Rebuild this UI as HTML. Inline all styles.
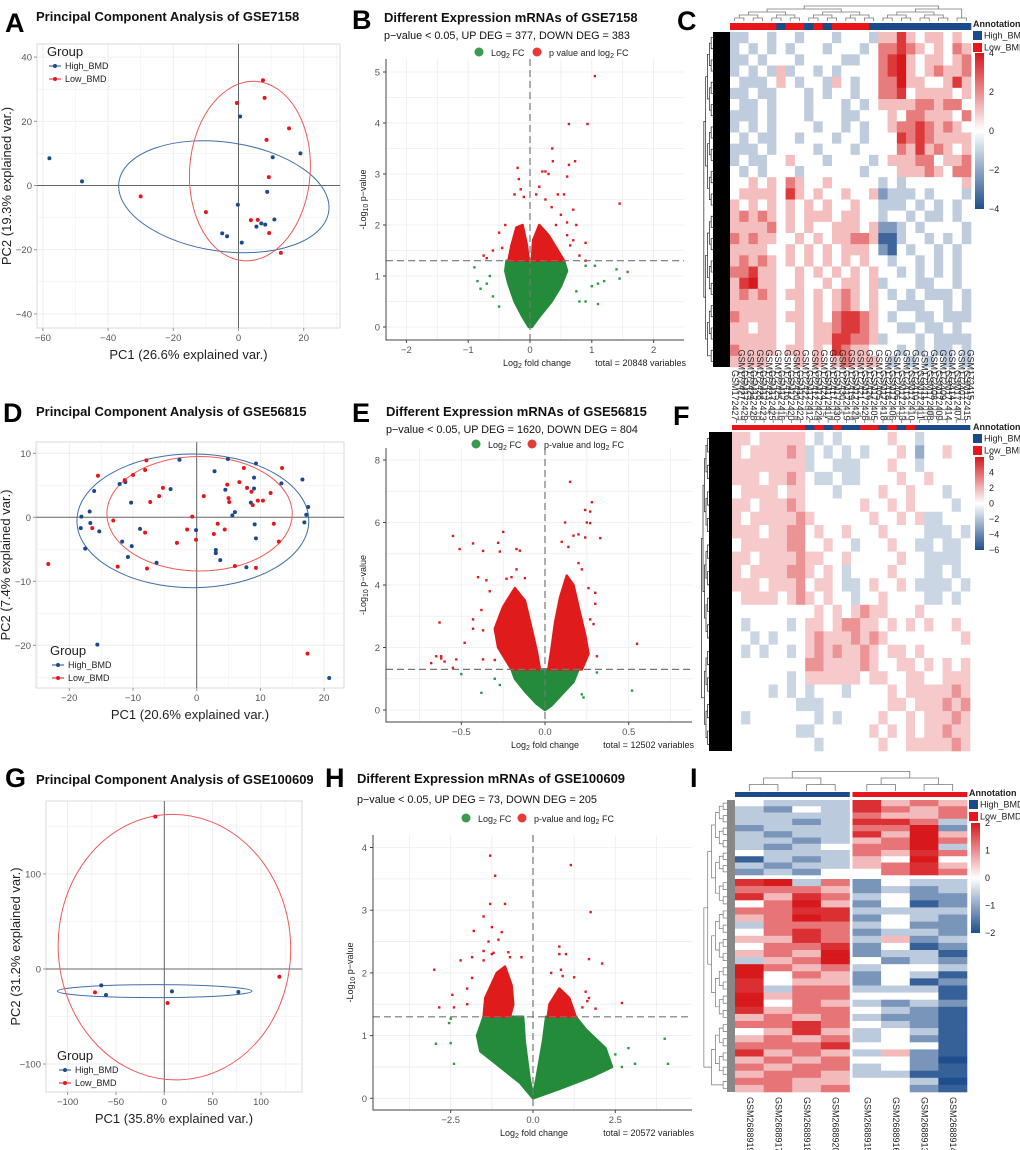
<!DOCTYPE html>
<html><head><meta charset="utf-8">
<style>
html,body{margin:0;padding:0;background:#fff;}
svg{display:block;font-family:"Liberation Sans",Arial,sans-serif;}
.t{font-weight:bold;font-size:13px;fill:#111;}
.L{font-weight:bold;font-size:27px;fill:#000;}
.s{font-size:10.8px;fill:#111;}
.tk{font-size:9.5px;fill:#555;}
.ax{font-size:13px;fill:#222;}
.sm{font-size:9px;fill:#222;}
</style></head>
<body>
<svg id="fig" width="1020" height="1150" viewBox="0 0 1020 1150" xmlns="http://www.w3.org/2000/svg">
<text class="L" x="5" y="32">A</text>
<text class="t" x="36" y="21">Principal Component Analysis of GSE7158</text>
<text class="L" x="352" y="29">B</text>
<text class="t" x="384" y="22">Different Expression mRNAs of GSE7158</text>
<text class="s" x="384" y="39">p−value &lt; 0.05, UP DEG = 377, DOWN DEG = 383</text>
<text class="L" x="677" y="30">C</text>
<text class="L" x="3" y="422">D</text>
<text class="t" x="36" y="416">Principal Component Analysis of GSE56815</text>
<text class="L" x="352" y="422">E</text>
<text class="t" x="386" y="416">Different Expression mRNAs of GSE56815</text>
<text class="s" x="386" y="433">p−value &lt; 0.05, UP DEG = 1620, DOWN DEG = 804</text>
<text class="L" x="673" y="425">F</text>
<text class="L" x="5" y="787">G</text>
<text class="t" x="36" y="784">Principal Component Analysis of GSE100609</text>
<text class="L" x="325" y="787">H</text>
<text class="t" x="357" y="783">Different Expression mRNAs of GSE100609</text>
<text class="s" x="357" y="803">p−value &lt; 0.05, UP DEG = 73, DOWN DEG = 205</text>
<text class="L" x="690" y="787">I</text>
</svg>
<script>
// ---------- DATA ----------
// Panel A PCA (GSE7158)
const aHighX=[-58,-48,0.5,10.5,19,8.8,-0.2,7,5.5,8.2,11,-5,-3.5,1];
const aHighY=[8.5,1.3,21.5,8.8,10,-2,-6,-11.8,-12.8,-12.2,-10.6,-14.9,-15.8,-17.8];
const aLowX=[7.5,8,-0.5,15.5,8.6,9.3,-30,-10,3.8,5.9,9.4,13];
const aLowY=[32.8,27.3,25.7,17.8,14.2,2.6,-3.4,-8.3,-10.8,-10.7,-14.8,-21];
const aEllHigh=[-4.5,-3.5,32.5,17,8];
const aEllLow=[3.5,4.5,18.5,28,4];
const aXTicks=[-60,-40,-20,0,20];
const aYTicks=[-40,-20,0,20,40];
// Panel D PCA (GSE56815)
const dHighX=[-2.7,4.9,9.3,2.8,16.6,13.3,9.0,-16.1,-12.1,-11.2,-4.1,4.5,9.0,8.5,-10.3,17.5,17.2,6.0,5.6,-18.1,-16.8,-16.7,-18.2,16.9,9.1,-0.1,-15.3,-8.9,-11.7,-10.2,9.3,3.0,3.0,-17.5,-10.8,3.7,-6.3,7.8,-15.6,20.8];
const dHighY=[9.0,9.1,8.4,7.2,5.9,5.3,6.2,4.1,5.2,5.5,4.4,4.3,4.5,2.3,2.3,1.6,0.4,0.8,0.3,0.1,0.9,-0.9,-1.7,-0.8,-1.1,-2.0,-2.2,-1.8,-3.8,-4.5,-3.3,-5.1,-5.6,-4.9,-6.2,-6.7,-7.1,-7.8,-19.9,-25.1];
const dLowX=[-15.5,-7.9,-8.1,-10,-11.3,-5.3,-5.9,-7.3,1.1,7.4,13.4,6.7,4.8,7.9,8.6,11.6,5.0,5.1,9.6,10.4,8.8,-0.7,-13.1,-16.4,-8.1,-1.5,3.3,4.4,12.1,2.7,-3.1,-0.1,12.9,-12.4,-7.8,6.0,9.3,-23.3,17.4];
const dLowY=[6.5,8.9,7.4,6.6,5.8,4.6,3.3,2.4,3.3,7.7,7.7,5.5,5.1,4.6,4.0,3.8,3.0,2.4,2.6,2.6,1.9,0.1,-0.5,-1.7,-2.4,-1.9,-1.0,-1.9,-1.0,-2.6,-4.0,-3.5,-3.8,-7.7,-8.0,-7.6,-7.9,-7.3,-21.3];
const dEllHigh=[-0.6,-0.55,18.2,10.45,0];
const dEllLow=[0.45,0.55,14.55,8.95,0];
const dXTicks=[-20,-10,0,10,20];
const dYTicks=[-20,-10,0,10];
// Panel G PCA (GSE100609)
const gHighX=[-65.2,-60.3,7.9,76.6];
const gHighY=[-17.2,-27.4,-23.5,-24.2];
const gLowX=[-9.3,-71.7,3.4,119];
const gLowY=[160.4,-24.6,-35.8,-8.1];
const gEllHigh=[-10,-23.3,100.7,6.8,0];
const gEllLow=[10.5,23,120.2,139.8,-3];
const gXTicks=[-100,-50,0,50,100];
const gYTicks=[-100,0,100];

// Volcano B
const bGreenEnvX=[-0.02,-0.12,-0.25,-0.35,-0.4,-0.38,0.55,0.6,0.5,0.35,0.15,0.03];
const bGreenEnvY=[0,0.2,0.5,0.85,1.1,1.3,1.3,1.1,0.8,0.5,0.2,0];
const bRedLeftX=[-0.35,-0.3,-0.22,-0.12,-0.05,-0.02];
const bRedLeftY=[1.3,1.6,1.95,2.0,1.6,1.3];
const bRedRightX=[0.03,0.05,0.15,0.3,0.45,0.55];
const bRedRightY=[1.3,1.7,2.0,1.8,1.5,1.3];
const bRedPtX=[1.05,0.63,0.93,0.36,0.37,0.73,0.63,0.6,-0.2,1.45,0.2,0.25,0.3,-0.18,-0.25,-0.15,0.15,0.45,0.55,0.7,0.9,0.75,0.6,-0.4,-0.5,-0.6,-0.75,-0.7,0.8,0.9,0.35,0.5,0.42,0.6,0.25,-0.1,0.1,0.65,-0.45,0.7];
const bRedPtY=[4.92,3.98,3.98,3.5,3.25,3.25,3.18,2.95,3.12,2.42,3.05,3.05,3.0,2.9,2.6,2.7,2.75,2.6,2.6,2.3,1.65,2.0,1.8,2.0,1.85,1.5,1.4,1.35,1.4,1.3,2.35,2.2,2.0,2.05,2.5,2.55,2.6,1.6,1.55,1.7];
const bGreenPtX=[-0.9,-0.85,-0.8,-0.7,-0.6,-0.65,-0.5,0.8,0.9,1.1,1.4,1.58,1.45,1.0,1.1,1.2,0.9,1.05,0.75];
const bGreenPtY=[1.17,0.9,0.75,0.85,0.6,1.0,0.4,0.5,0.5,0.45,1.13,1.08,0.95,0.8,0.85,0.9,1.2,1.2,0.7];
const bXTicks=[-2,-1,0,1,2];
const bYTicks=[0,1,2,3,4,5];
// Volcano E
const eGreenEnvX=[0,-0.05,-0.12,-0.18,-0.2,0.2,0.17,0.1,0.04];
const eGreenEnvY=[0,0.2,0.6,1.0,1.3,1.3,0.9,0.5,0.15];
const eRedLeftX=[-0.2,-0.28,-0.3,-0.25,-0.18,-0.12,-0.08,-0.05,-0.03];
const eRedLeftY=[1.3,2.0,2.6,3.3,3.9,3.5,2.6,1.9,1.3];
const eRedRightX=[0.02,0.04,0.06,0.09,0.13,0.17,0.2,0.24,0.26,0.22];
const eRedRightY=[1.3,2.0,2.8,3.6,4.3,4.0,3.3,2.4,1.8,1.3];
const eRedPtX=[0.15,0.28,0.24,0.27,0.25,0.27,0.12,0.33,0.2,0.24,0.17,0.1,0.14,-0.55,-0.25,-0.43,-0.51,-0.28,-0.37,-0.27,-0.17,-0.15,-0.17,-0.4,-0.35,-0.23,-0.2,-0.12,-0.33,-0.38,-0.43,-0.63,-0.43,-0.37,-0.48,-0.65,-0.62,-0.6,-0.68,-0.62,-0.53,-0.55,-0.37,-0.3,0.55,0.31,0.3,0.3,0.27,0.29,0.26,0.22,0.2];
const eRedPtY=[7.3,6.65,6.4,6.35,6.0,5.98,6.0,5.5,5.62,5.52,5.58,5.38,5.22,5.57,5.7,5.33,5.15,5.35,5.09,5.07,5.15,5.1,4.5,4.25,4.15,4.2,4.25,4.22,3.8,3.2,2.9,2.8,2.6,2.55,2.15,1.72,1.65,1.55,1.5,1.72,1.62,1.35,1.62,1.6,2.12,1.72,3.75,3.4,2.9,2.75,3.9,4.5,4.7];
const eGreenPtX=[-0.5,-0.38,0.52,0.31,0.23,0.22,-0.27,-0.3];
const eGreenPtY=[1.15,0.55,0.62,1.2,0.4,0.5,0.8,1.0];
const eXTicks=[-0.5,0,0.5];
const eYTicks=[0,2,4,6,8];
// Volcano H
const hGreenEnvX=[0,-0.4,-1.0,-1.6,-1.7,-1.5,-0.3,-0.25,-0.1,0,0.1,0.3,0.4,1.3,1.6,2.2,2.4,1.8,0.8];
const hGreenEnvY=[0,0.25,0.5,0.75,1.0,1.3,1.3,0.9,0.3,0.05,0.3,0.9,1.3,1.3,1.1,0.8,0.5,0.35,0.15];
const hRedLeftX=[-1.5,-1.45,-1.1,-0.85,-0.65,-0.6,-0.7];
const hRedLeftY=[1.3,1.6,2.0,2.1,1.8,1.5,1.3];
const hRedRightX=[0.45,0.5,0.8,1.1,1.3];
const hRedRightY=[1.3,1.5,1.75,1.6,1.3];
const hRedPtX=[-1.3,-1.15,-1.3,-0.85,-1.5,-1.25,-1.8,-0.95,-1.35,-1.05,-1.5,-1.25,-1.2,-0.75,-0.35,-0.7,-2.2,-1.85,-1.5,-3.0,-1.85,-2.45,-2.4,-2.85,-2.0,-2.0,1.15,1.75,0.8,0.8,1.0,1.7,2.1,0.55,0.85,0.9,1.25,1.6,1.7,1.9,2.7,1.5,1.65];
const hRedPtY=[3.87,3.55,3.1,3.1,2.9,2.73,2.67,2.65,2.5,2.53,2.35,2.3,2.32,2.33,2.25,2.25,2.2,2.25,2.2,2.05,1.92,1.65,1.45,1.45,1.75,1.5,3.72,2.97,2.42,2.3,2.3,2.22,2.15,2.0,2.05,1.95,1.93,1.7,1.6,1.43,1.52,1.45,1.55];
const hGreenPtX=[-2.95,-2.5,-2.4,-2.55,-2.5,4.0,4.1,2.9,3.1,2.7,2.5];
const hGreenPtY=[0.87,0.88,0.55,1.2,1.27,0.95,0.55,0.8,0.55,0.5,0.7];
const hXTicks=[-2.5,0,2.5];
const hYTicks=[0,1,2,3,4];

// Heatmap C (26 samples; codes 0..8 => value code-4)
const cSamples=["GSM172427","GSM172429","GSM172428","GSM172423","GSM172425","GSM172416","GSM172420","GSM172422","GSM172412","GSM172424","GSM172417","GSM172430","GSM172419","GSM172421","GSM172426","GSM172405","GSM172418","GSM172406","GSM172413","GSM172410","GSM172411","GSM172408","GSM172409","GSM172414","GSM172407","GSM172415"];
const cGroups="LLLLLHLLHLHLLLLHHHHHHHHHHH";
const cRows=["33443443444344435575455454","34343434443444346676545465","33434443444433446785455456","34343534434344446785456556","43334543443543446685544575","33433444343443446674555545","43343444344434345555665664","33343444344433444546655546","34343444434434344566765654","43433443444344344476765555","33343444434443444465756545","34334454443444434555664556","43434443444444344455565466","44545465445444443434444445","45555475454454452333434443","54545454545445443334343434","56565454555455443443433434","55556454544555452234344443","65655445454556651134434343","55554454545455542143443434","56565454545454544344343434","66755445454545454434343434","57855445445455453444334434","56565455454565454343433343","55555445454565454433344343","65555455454677654344334333","55455445455677654433433434","55555445455776653444343333","65555455454765544434343343","55554445454565554343434343"];
// Heatmap F
const fSamples=cSamples;
const fGroups="LLLLLLLLHLHLHHLLHLHLHHHHHH";
const fRows=["55455555434344444544344444","54555565343434344454244544","55555555344333444544344444","55545565433433444454454444","45555455444344445445444344","55455565444444544545444434","54555556544444454454533444","55545566454454445444433343","45555566445443444544334334","55455556554454444454433334","54555566545434444544433434","55545556455433454454333343","45555456545443445444433434","44444444454545655444544444","43444434554566554545454454","44343444565556565444444445","43434434565655654554544444","44444444665555654455454545","44444434555555455445544555","44443434344434444545555565","44444443334444444554555656","43444444434344445445455565","44444443344444454545455655","44444444434444445445555565"];
// Heatmap I
const iSamples=["GSM2688919","GSM2688917","GSM2688918","GSM2688920","GSM2688915","GSM2688916","GSM2688913","GSM2688914"];
const iGroups="HHHHLLLL";
const iTopRows=["43337565","32437656","33336556","33237763","23336682","32337585","33235686","32346683","43336576","13235484","32335675","23244676"];
const iBotRows=["78362433","66652323","75763422","46852412","66773333","56872432","36663422","46762332","55763523","46672412","56582331","35684232","86563443","84652431","74552412","73663331","85664441","84653232","75664321","56563221","66764321","45753431","56563421","66674441","75653521","56564420","65663421","56653311","66554430","56564421"];

// ---------- HELPERS ----------
const NS="http://www.w3.org/2000/svg";
const svg=document.getElementById('fig');
function mk(tag,at,parent){const e=document.createElementNS(NS,tag);for(const k in at)e.setAttribute(k,at[k]);(parent||svg).appendChild(e);return e;}
function tag(e,name){


return e;}
function lin(d0,d1,r0,r1){return v=>r0+(v-d0)*(r1-r0)/(d1-d0);}
function txt(x,y,s,cls,extra){const e=mk('text',Object.assign({x:x,y:y,class:cls},extra||{}));e.textContent=s;return e;}
function fmt(v){return (String(v).startsWith('-')?'−':'')+String(v).replace('-','');}
const RED='#e8161b', BLUE='#1b4a8a';

function pca(o){
  const sx=lin(o.xd[0],o.xd[1],o.xr[0],o.xr[1]), sy=lin(o.yd[0],o.yd[1],o.yr[0],o.yr[1]);
  const g=tag(mk('g',{}),o.name);
  const [L,R,T,B]=o.rect;
  tag(mk('rect',{x:L,y:T,width:R-L,height:B-T,fill:'#fff',stroke:'#d9d9d9','stroke-width':1},g),'plot-area');
  const dx=o.xt[1]-o.xt[0], dy=o.yt[1]-o.yt[0];
  for(let v=o.xt[0]-dx/2; v<=o.xt[o.xt.length-1]+dx; v+=dx/2){const x=sx(v); if(x<L||x>R)continue;
    tag(mk('line',{x1:x,x2:x,y1:T,y2:B,stroke:'#ececec','stroke-width':(Math.abs((v-o.xt[0])/dx%1)<1e-6)?0.9:0.5},g),'x-grid-line');}
  for(let v=o.yt[0]-dy/2; v<=o.yt[o.yt.length-1]+dy; v+=dy/2){const y=sy(v); if(y<T||y>B)continue;
    tag(mk('line',{x1:L,x2:R,y1:y,y2:y,stroke:'#ececec','stroke-width':(Math.abs((v-o.yt[0])/dy%1)<1e-6)?0.9:0.5},g),'y-grid-line');}
  tag(mk('line',{x1:sx(0),x2:sx(0),y1:T,y2:B,stroke:'#666','stroke-width':1},g),'zero-line-vertical');
  tag(mk('line',{x1:L,x2:R,y1:sy(0),y2:sy(0),stroke:'#666','stroke-width':1},g),'zero-line-horizontal');
  o.xt.forEach(v=>{tag(mk('line',{x1:sx(v),x2:sx(v),y1:B,y2:B+3,stroke:'#999'},g),'x-tick');
    tag(txt(sx(v),B+13,fmt(v),'tk',{'text-anchor':'middle'}),'x-tick-label');});
  o.yt.forEach(v=>{tag(mk('line',{x1:L-3,x2:L,y1:sy(v),y2:sy(v),stroke:'#999'},g),'y-tick');
    tag(txt(L-5,sy(v)+3.5,fmt(v),'tk',{'text-anchor':'end'}),'y-tick-label');});
  const kx=Math.abs(sx(1)-sx(0)), ky=Math.abs(sy(1)-sy(0));
  [[o.eH,'#3f6fa8','ellipse-high-bmd'],[o.eL,'#ee5a5a','ellipse-low-bmd']].forEach(([e,c,n])=>{
    tag(mk('ellipse',{cx:sx(e[0]),cy:sy(e[1]),rx:e[2]*kx,ry:e[3]*ky,fill:'none',stroke:c,'stroke-width':1,transform:`rotate(${e[4]} ${sx(e[0])} ${sy(e[1])})`},g),n);});
  o.hx.forEach((v,i)=>{tag(mk('circle',{cx:sx(v),cy:sy(o.hy[i]),r:2,fill:BLUE},g),'point-high-bmd');});
  o.lx.forEach((v,i)=>{tag(mk('circle',{cx:sx(v),cy:sy(o.ly[i]),r:2,fill:RED},g),'point-low-bmd');});
  tag(txt((L+R)/2,B+31,o.xlab,'ax',{'text-anchor':'middle','font-size':'14'}),'x-axis-title');
  const yc=(T+B)/2, yx=L-26;
  tag(txt(yx,yc,o.ylab,'ax',{'text-anchor':'middle','font-size':'14',transform:`rotate(-90 ${yx} ${yc})`}),'y-axis-title');
  const [lx,ly]=o.leg;
  tag(txt(lx,ly,'Group','ax',{'font-size':'12'}),'legend-title');
  [['High_BMD',BLUE],['Low_BMD',RED]].forEach(([s,c],i)=>{const y=ly+13+i*13;
    tag(mk('line',{x1:lx+2,x2:lx+14,y1:y-3,y2:y-3,stroke:c,'stroke-width':1},g),'legend-key-line');
    tag(mk('circle',{cx:lx+8,cy:y-3,r:2,fill:c},g),'legend-key-dot');
    tag(txt(lx+18,y,s,'sm',{'font-size':'9.5'}),'legend-entry');});
}

function volcano(o){
  const sx=lin(o.xd[0],o.xd[1],o.xr[0],o.xr[1]), sy=lin(o.yd[0],o.yd[1],o.yr[0],o.yr[1]);
  const g=tag(mk('g',{}),o.name);
  const [L,R,T,B]=o.rect;
  const dx=o.xt[1]-o.xt[0], dy=o.yt[1]-o.yt[0];
  for(let v=o.xt[0]-dx; v<=o.xt[o.xt.length-1]+dx; v+=dx/2){const x=sx(v); if(x<L||x>R)continue;
    tag(mk('line',{x1:x,x2:x,y1:T,y2:B,stroke:'#ececec','stroke-width':0.8},g),'x-grid-line');}
  for(let v=o.yt[0]; v<=o.yt[o.yt.length-1]+dy; v+=dy/2){const y=sy(v); if(y<T||y>B)continue;
    tag(mk('line',{x1:L,x2:R,y1:y,y2:y,stroke:'#ececec','stroke-width':0.8},g),'y-grid-line');}
  const poly=(xs,ys,c,n)=>tag(mk('polygon',{points:xs.map((v,i)=>sx(v)+','+sy(ys[i])).join(' '),fill:c,stroke:c,'stroke-width':2.5,'stroke-linejoin':'round'},g),n);
  poly(o.gx,o.gy,'#238b3a','dense-nonsignificant-genes');
  poly(o.rlx,o.rly,'#e01b1b','dense-down-genes');
  poly(o.rrx,o.rry,'#e01b1b','dense-up-genes');
  o.gpx.forEach((v,i)=>{tag(mk('rect',{x:sx(v)-1.2,y:sy(o.gpy[i])-1.2,width:2.4,height:2.4,fill:'#2a9a44'},g),'gene-point-ns');});
  o.rpx.forEach((v,i)=>{tag(mk('rect',{x:sx(v)-1.2,y:sy(o.rpy[i])-1.2,width:2.4,height:2.4,fill:'#e01b1b'},g),'gene-point-sig');});
  tag(mk('line',{x1:L,x2:R,y1:sy(1.3),y2:sy(1.3),stroke:'#777','stroke-width':1.2,'stroke-dasharray':'7,4'},g),'p-threshold-line');
  tag(mk('line',{x1:sx(0),x2:sx(0),y1:T,y2:B,stroke:'#777','stroke-width':1.2,'stroke-dasharray':'7,4'},g),'fc-zero-line');
  tag(mk('polyline',{points:`${L},${T} ${L},${B} ${R},${B}`,fill:'none',stroke:'#444','stroke-width':1},g),'axes');
  o.xt.forEach(v=>{tag(mk('line',{x1:sx(v),x2:sx(v),y1:B,y2:B+3,stroke:'#444'},g),'x-tick');
    tag(txt(sx(v),B+13,fmt(o.dec?v.toFixed(1):v),'tk',{'text-anchor':'middle'}),'x-tick-label');});
  o.yt.forEach(v=>{tag(mk('line',{x1:L-3,x2:L,y1:sy(v),y2:sy(v),stroke:'#444'},g),'y-tick');
    tag(txt(L-6,sy(v)+3.5,fmt(v),'tk',{'text-anchor':'end'}),'y-tick-label');});
  const xl=tag(txt(o.xlx,B+26,'','sm',{'text-anchor':'middle','font-size':'10'}),'x-axis-title');
  xl.innerHTML='Log<tspan font-size="7" dy="2">2</tspan><tspan dy="-2"> fold change</tspan>';
  tag(txt(R+2,B+26,o.total,'sm',{'text-anchor':'end','font-size':'10'}),'total-variables-caption');
  const yc=(T+B)/2, yx=L-20;
  const yl=tag(txt(yx,yc,'','sm',{'text-anchor':'middle','font-size':'10',transform:`rotate(-90 ${yx} ${yc})`}),'y-axis-title');
  yl.innerHTML='-Log<tspan font-size="7" dy="2">10</tspan><tspan dy="-2"> p−value</tspan>';
  const [gx,rx,ly]=o.leg;
  tag(mk('circle',{cx:gx,cy:ly-4,r:4.5,fill:'#3a9a50'},g),'legend-key-log2fc');
  const l1=tag(txt(gx+12,ly,'','sm',{'font-size':'10'}),'legend-entry-log2fc');
  l1.innerHTML='Log<tspan font-size="7" dy="2">2</tspan><tspan dy="-2"> FC</tspan>';
  tag(mk('circle',{cx:rx,cy:ly-4,r:4.5,fill:'#e53a3a'},g),'legend-key-pvalue-log2fc');
  const l2=tag(txt(rx+12,ly,'','sm',{'font-size':'10'}),'legend-entry-pvalue-log2fc');
  l2.innerHTML=o.pText+' and log<tspan font-size="7" dy="2">2</tspan><tspan dy="-2"> FC</tspan>';
}

function col(v,max){const t=Math.max(-1,Math.min(1,v/max));
  const r=[215,25,28], w=[255,255,255], b=[31,78,140];
  const c=t>=0?r:b, a=Math.abs(t);
  return 'rgb('+w.map((x,i)=>Math.round(x+(c[i]-x)*a)).join(',')+')';}

function dendroTop(xs,yTop,yBot,g,stroke,name){
  let nodes=xs.map(x=>({x:x,h:yBot}));let level=0;
  const step=(yBot-yTop)/Math.ceil(Math.log2(xs.length)+1);
  while(nodes.length>1){level++;const nn=[];
    for(let i=0;i<nodes.length;i+=2){
      if(i+1>=nodes.length){nn.push(nodes[i]);continue;}
      const a=nodes[i],b=nodes[i+1],h=yBot-level*step;
      tag(mk('polyline',{points:`${a.x},${a.h} ${a.x},${h} ${b.x},${h} ${b.x},${b.h}`,fill:'none',stroke:stroke,'stroke-width':0.8},g),name);
      nn.push({x:(a.x+b.x)/2,h:h});}
    nodes=nn;}
}
function dendroLeft(ys,xL,xR,g,stroke,name){
  let nodes=ys.map(y=>({y:y,w:xR}));let level=0;
  const step=(xR-xL)/Math.ceil(Math.log2(ys.length)+1);
  while(nodes.length>1){level++;const nn=[];
    for(let i=0;i<nodes.length;i+=2){
      if(i+1>=nodes.length){nn.push(nodes[i]);continue;}
      const a=nodes[i],b=nodes[i+1],w=xR-level*step;
      tag(mk('polyline',{points:`${a.w},${a.y} ${w},${a.y} ${w},${b.y} ${b.w},${b.y}`,fill:'none',stroke:stroke,'stroke-width':0.7},g),name);
      nn.push({y:(a.y+b.y)/2,w:w});}
    nodes=nn;}
}
function hmLegend(x,yAnn,cbT,cbB,ticks,max,g,cbW){
  tag(txt(x,yAnn,'Annotation','sm',{'font-size':'7.5','font-weight':'bold'}),'annotation-legend-title');
  [['High_BMD',BLUE],['Low_BMD',RED]].forEach(([s,c],i)=>{const y=yAnn+4+i*12;
    tag(mk('rect',{x:x,y:y,width:9,height:9,fill:c},g),'annotation-key');
    tag(txt(x+11,y+7.5,s,'sm',{'font-size':'7.5'}),'annotation-legend-entry');});
  const gid='grad'+Math.round(cbT);
  const d=mk('defs',{},g);const lg=mk('linearGradient',{id:gid,x1:0,y1:0,x2:0,y2:1},d);
  for(let k=0;k<=10;k++){mk('stop',{offset:k/10,'stop-color':col(max-2*max*k/10,max)},lg);}
  tag(mk('rect',{x:x+2,y:cbT,width:cbW||9,height:cbB-cbT,fill:`url(#${gid})`},g),'color-scale-bar');
  const sc=lin(max,-max,cbT,cbB);
  ticks.forEach(v=>{tag(txt(x+(cbW||9)+7,sc(v)+3,fmt(v),'sm',{'font-size':'7.5'}),'color-scale-label');});
}
function heatmap(o){
  const g=tag(mk('g',{}),o.name);
  const n=o.samples.length, cw=(o.R-o.L)/n;
  const centers=[];
  o.blocks.forEach((blk)=>{
    const [rows,T,B]=blk; const rh=(B-T)/rows.length;
    rows.forEach((row,ri)=>{centers.push(T+(ri+0.5)*rh);
      for(let j=0;j<n;j++){const v=(parseInt(row[j])-4)*o.unit;
        const x=o.L+j*cw+(o.gapAfter!=null&&j>o.gapAfter?o.gap:0);
        tag(mk('rect',{x:x,y:T+ri*rh,width:cw+0.3,height:rh+0.3,fill:col(v,o.max)},g),'heatmap-cell');}});
  });
  for(let j=0;j<n;j++){const x=o.L+j*cw+(o.gapAfter!=null&&j>o.gapAfter?o.gap:0);
    tag(mk('rect',{x:x,y:o.annY,width:cw+0.3,height:o.annH,fill:o.groups[j]==='H'?BLUE:RED},g),'annotation-bar-cell');}
  const xs=o.samples.map((s,j)=>o.L+(j+0.5)*cw+(o.gapAfter!=null&&j>o.gapAfter?o.gap:0));
  dendroTop(xs,o.dTop,o.dBot,g,'#777','column-dendrogram-branch');
  if(o.rowBlack){tag(mk('rect',{x:o.rowBlack[0],y:o.T,width:o.rowBlack[1]-o.rowBlack[0],height:o.B-o.T,fill:o.rowFill||'#000'},g),'row-dendrogram-leaves');}
  dendroLeft(centers,o.rdL,o.rdR,g,o.rowStroke,'row-dendrogram-branch');
  o.samples.forEach((s,j)=>{const x=xs[j];
    if(o.labTop){tag(txt(x+2,o.labY,s,'sm',{'font-size':o.labFs,'text-anchor':'end',transform:`rotate(90 ${x+2} ${o.labY})`}),'sample-label');}
    else{tag(txt(x-2.5,o.labY,s,'sm',{'font-size':o.labFs,transform:`rotate(90 ${x-2.5} ${o.labY})`}),'sample-label');}});
  hmLegend(o.legX,o.annLegY,o.cbT,o.cbB,o.cbTicks,o.max,g);
}

// ---------- DRAW ----------
pca({name:'pca-gse7158',rect:[37,340,44,328],xd:[0,20],xr:[238.5,303.7],yd:[0,20],yr:[185.5,121.3],xt:aXTicks,yt:aYTicks,
  hx:aHighX,hy:aHighY,lx:aLowX,ly:aLowY,eH:aEllHigh,eL:aEllLow,xlab:'PC1 (26.6% explained var.)',ylab:'PC2 (19.3% explained var.)',leg:[47,56]});
pca({name:'pca-gse56815',rect:[36,344,442,688],xd:[0,10],xr:[196.7,260.4],yd:[0,10],yr:[517.3,453.3],xt:dXTicks,yt:dYTicks,
  hx:dHighX,hy:dHighY,lx:dLowX,ly:dLowY,eH:dEllHigh,eL:dEllLow,xlab:'PC1 (20.6% explained var.)',ylab:'PC2 (7.4% explained var.)',leg:[50,655]});
pca({name:'pca-gse100609',rect:[46,302,801,1092],xd:[0,100],xr:[164.3,261],yd:[0,100],yr:[969,874],xt:gXTicks,yt:gYTicks,
  hx:gHighX,hy:gHighY,lx:gLowX,ly:gLowY,eH:gEllHigh,eL:gEllLow,xlab:'PC1 (35.8% explained var.)',ylab:'PC2 (31.2% explained var.)',leg:[57,1060]});

volcano({name:'volcano-gse7158',rect:[386,684,59,340],xd:[0,1],xr:[530,591.8],yd:[0,1],yr:[327,276],xt:bXTicks,yt:bYTicks,
  gx:bGreenEnvX,gy:bGreenEnvY,rlx:bRedLeftX,rly:bRedLeftY,rrx:bRedRightX,rry:bRedRightY,rpx:bRedPtX,rpy:bRedPtY,gpx:bGreenPtX,gpy:bGreenPtY,
  xlx:537,total:'total = 20848 variables',leg:[479,537,56],pText:'p   value'});
volcano({name:'volcano-gse56815',rect:[386,692,448,722],xd:[0,0.5],xr:[545,628.7],yd:[0,2],yr:[710,647.5],xt:eXTicks,yt:eYTicks,dec:true,
  gx:eGreenEnvX,gy:eGreenEnvY,rlx:eRedLeftX,rly:eRedLeftY,rrx:eRedRightX,rry:eRedRightY,rpx:eRedPtX,rpy:eRedPtY,gpx:eGreenPtX,gpy:eGreenPtY,
  xlx:545,total:'total = 12502 variables',leg:[476,532,448],pText:'p-value'});
volcano({name:'volcano-gse100609',rect:[373,692,835,1110],xd:[0,2.5],xr:[533,615.3],yd:[0,1],yr:[1098.3,1035.6],xt:hXTicks,yt:hYTicks,dec:true,
  gx:hGreenEnvX,gy:hGreenEnvY,rlx:hRedLeftX,rly:hRedLeftY,rrx:hRedRightX,rry:hRedRightY,rpx:hRedPtX,rpy:hRedPtY,gpx:hGreenPtX,gpy:hGreenPtY,
  xlx:534,total:'total = 20572 variables',leg:[466,522,822],pText:'p-value'});

heatmap({name:'heatmap-gse7158',samples:cSamples,groups:cGroups,L:730,R:971,T:32,B:367,blocks:[[cRows,32,367]],unit:1.15,max:4,
  annY:23,annH:7,dTop:3,dBot:21,rowBlack:[713,730],rdL:702,rdR:713,rowStroke:'#222',labTop:false,labY:370,labFs:'5',
  legX:973,annLegY:27,cbT:53,cbB:209,cbTicks:[4,2,0,-2,-4]});
heatmap({name:'heatmap-gse56815',samples:fSamples,groups:fGroups,L:732,R:970,T:432,B:751,blocks:[[fRows,432,751]],unit:1.4,max:6,
  annY:425,annH:5,dTop:403,dBot:423,rowBlack:[709,732],rdL:700,rdR:709,rowStroke:'#222',labTop:true,labY:400,labFs:'5',
  legX:973,annLegY:430,cbT:457,cbB:550,cbTicks:[6,4,2,0,-2,-4,-6]});
heatmap({name:'heatmap-gse100609',samples:iSamples,groups:iGroups,L:735,R:964,T:800,B:1092,gapAfter:3,gap:3,
  blocks:[[iTopRows,800,875],[iBotRows,879,1092]],unit:0.6,max:2,
  annY:792,annH:5,dTop:765,dBot:791,rowBlack:[727,735],rowFill:'#888',rdL:700,rdR:727,rowStroke:'#777',labTop:false,labY:1097,labFs:'9.5',
  legX:969,annLegY:796,cbT:823,cbB:933,cbTicks:[2,1,0,-1,-2]});
</script>
</body></html>
